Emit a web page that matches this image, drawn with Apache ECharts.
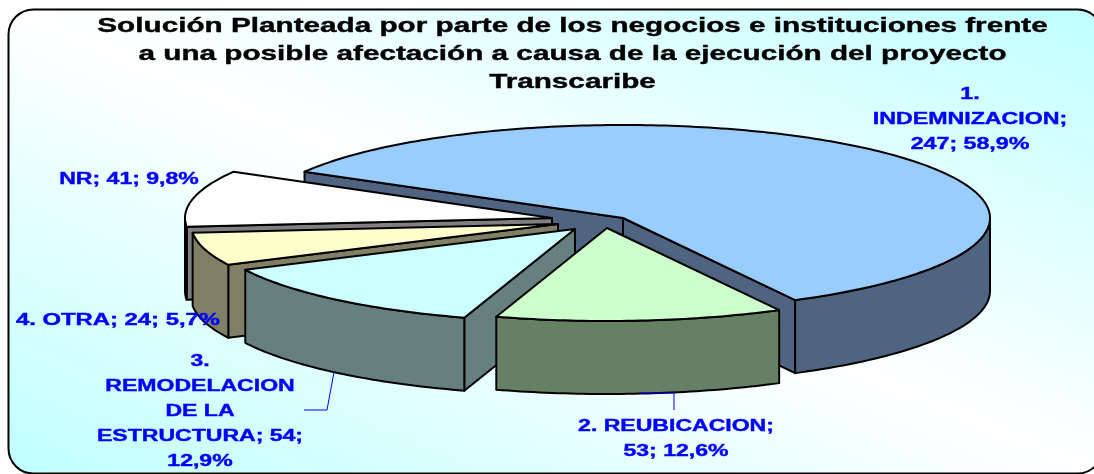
<!DOCTYPE html>
<html>
<head>
<meta charset="utf-8">
<title>Transcaribe</title>
<script src="https://cdn.jsdelivr.net/npm/echarts@6/dist/echarts.min.js"></script>
<style>
  html, body { margin: 0; padding: 0; background: #fff; }
  #chart { width: 1094px; height: 474px; }
</style>
</head>
<body>
<div id="chart"></div>
<script>
const categories = ['1. INDEMNIZACION', '2. REUBICACION', '3. REMODELACION DE LA ESTRUCTURA', '4. OTRA', 'NR']
const values = [247, 53, 54, 24, 41]
const topColors = ['#99CCFF', '#CCFFCC', '#CCFFFF', '#FFFFCC', '#FFFFFF']
const wallColors = ['#4F6480', '#668066', '#668080', '#808066', '#808080']
const titleLines = [
  'Solución Planteada por parte de los negocios e instituciones frente',
  'a una posible afectación a causa de la ejecución del proyecto',
  'Transcaribe',
]

// 3d look of the pie: flattened ellipse, every slice pulled to its own centre
const RX = 367
const RY = 93
const DEPTH = 73
const START_ANGLE = -150.2
const SLICE_CENTERS = [[623, 218], [607, 228], [575, 229], [558, 224], [552, 218]]
const PAINT_ORDER = [0, 4, 3, 2, 1]

// where each label sits and how it wraps
const LABEL_POS = [[970, 120], [676, 439], [200, 412], [118, 321], [129, 180]]
const LABEL_SCALE = [1.45, 1.44, 1.44, 1.49, 1.44]
const LABEL_LINES = [
  (c, v, p) => `1.\nINDEMNIZACION;\n${v}; ${p}`,
  (c, v, p) => `2. REUBICACION;\n${v}; ${p}`,
  (c, v, p) => `3.\nREMODELACION\nDE LA\nESTRUCTURA; ${v};\n${p}`,
  (c, v, p) => `${c}; ${v}; ${p}`,
  (c, v, p) => `${c}; ${v}; ${p}`,
]
const LEADERS = [
  [[640, 393], [674, 393], [674, 410]],
  [[334, 372], [327, 410], [304, 410]],
]

const total = values.reduce((a, b) => a + b, 0)
const angles = []
let acc = START_ANGLE
values.forEach((v) => {
  angles.push([acc, acc + (v / total) * 360])
  acc += (v / total) * 360
})

function rim(c, deg) {
  const r = (deg * Math.PI) / 180
  return [c[0] + RX * Math.cos(r), c[1] + RY * Math.sin(r)]
}

function arcPoints(c, from, to) {
  const pts = []
  const n = Math.max(2, Math.ceil(Math.abs(to - from)))
  for (let i = 0; i <= n; i++) pts.push(rim(c, from + ((to - from) * i) / n))
  return pts
}

const down = (p) => [p[0], p[1] + DEPTH]
const cosDeg = (d) => Math.cos((d * Math.PI) / 180)

function poly(points, fill) {
  return {
    type: 'polygon',
    shape: { points },
    style: { fill, stroke: '#000', lineWidth: 2, lineJoin: 'round' },
  }
}

function renderSlice(params, api) {
  const i = api.value(0)
  const c = SLICE_CENTERS[i]
  const [a0, a1] = angles[i]
  const children = []
  const p0 = rim(c, a0)
  const p1 = rim(c, a1)
  // cut faces: only the ones turned towards the viewer
  if (cosDeg(a0) < 0) children.push(poly([c, p0, down(p0), down(c)], wallColors[i]))
  if (cosDeg(a1) > 0) children.push(poly([c, p1, down(p1), down(c)], wallColors[i]))
  // outer wall only where the rim faces the viewer
  const from = Math.max(a0, 0)
  const to = Math.min(a1, 180)
  if (to > from) {
    const arc = arcPoints(c, from, to)
    children.push(poly(arc.concat(arc.map(down).reverse()), wallColors[i]))
  }
  children.push(poly([c].concat(arcPoints(c, a0, a1)), topColors[i]))
  return { type: 'group', children }
}

const pctText = (v) => ((v / total) * 100).toFixed(1).replace('.', ',') + '%'

const labels = values.map((v, i) => ({
  type: 'text',
  x: LABEL_POS[i][0],
  y: LABEL_POS[i][1],
  scaleX: LABEL_SCALE[i],
  z: 20,
  style: {
    text: LABEL_LINES[i](categories[i], v, pctText(v)),
    fill: '#0000FF',
    stroke: '#0000FF',
    lineWidth: 0.4,
    font: 'bold 16px "Liberation Sans", Arial, sans-serif',
    lineHeight: 25,
    align: 'center',
    verticalAlign: 'middle',
  },
}))

const leaders = LEADERS.map((points) => ({
  type: 'polyline',
  shape: { points },
  z: 19,
  style: { stroke: '#0000FF', lineWidth: 1, fill: null },
}))

const chart = echarts.init(document.getElementById('chart'))
chart.setOption({
  animation: false,
  graphic: {
    elements: [
      {
        type: 'rect',
        z: 0,
        shape: { x: 8.5, y: 9.5, width: 1094, height: 464, r: 25 },
        style: {
          stroke: '#000',
          lineWidth: 2,
          fill: {
            type: 'linear',
            global: true,
            x: 711, y: -152, x2: 379, y2: 626,
            colorStops: [
              { offset: 0, color: '#C0FFFF' },
              { offset: 0.5, color: '#FFFFFF' },
              { offset: 1, color: '#C0FFFF' },
            ],
          },
        },
      },
      {
        type: 'text',
        x: 572.5,
        y: 54,
        scaleX: 1.414,
        z: 20,
        style: {
          text: titleLines.join('\n'),
          fill: '#000',
          stroke: '#000',
          lineWidth: 0.4,
          font: 'bold 21px "Liberation Sans", Arial, sans-serif',
          lineHeight: 28,
          align: 'center',
          verticalAlign: 'middle',
        },
      },
      ...leaders,
      ...labels,
    ],
  },
  series: [
    {
      type: 'custom',
      coordinateSystem: 'none',
      silent: true,
      z: 5,
      renderItem: renderSlice,
      data: PAINT_ORDER.map((i) => [i]),
    },
  ],
})
window.addEventListener('resize', () => chart.resize())
</script>
</body>
</html>
